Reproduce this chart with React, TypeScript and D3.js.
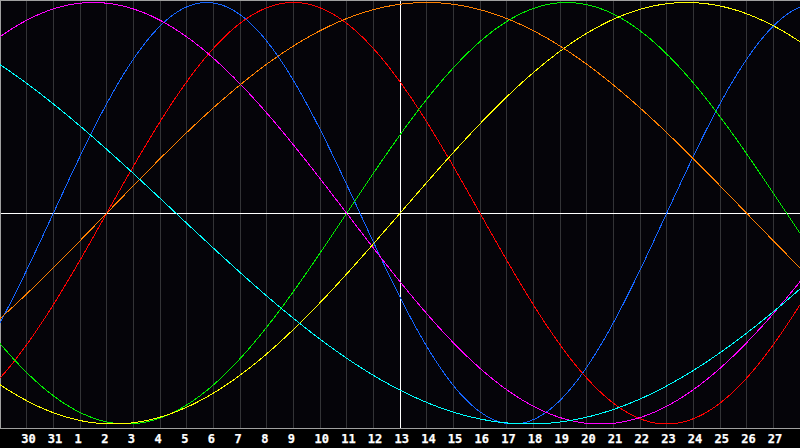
import React from "react";
import * as d3 from "d3";

const WIDTH = 800;
const HEIGHT = 448;
const PLOT_BOTTOM = 428;

// day labels under the grid lines (29 of them, from the 30th of last month)
const dayLabels = [
  "30", "31", "1", "2", "3", "4", "5", "6", "7", "8", "9", "10", "11", "12", "13",
  "14", "15", "16", "17", "18", "19", "20", "21", "22", "23", "24", "25", "26", "27",
];
const todayIndex = 15; // "13"

// biorhythm cycles: length in days and the day (from left edge) where it rises through zero
const cycleNames = ["physical", "emotional", "intellectual", "intuitive", "aesthetic", "awareness", "spiritual"];
const cyclePeriods = [23, 28, 33, 38, 43, 48, 53];
const cycleZeroDays = [2, 4, 13, -6, 15, 4, -19.9];
const cycleColors = ["#1565ff", "#ff0000", "#00ee00", "#ff00ff", "#ffff00", "#ff8000", "#00ffff"];

function App() {
  const xScale = d3.scaleLinear().domain([0, 30]).range([0, WIDTH]);
  const yScale = d3.scaleLinear().domain([-1, 1]).range([424, 2.5]);

  const samples = d3.range(0, 30.0001, 1 / 26.6667);

  const crisp = (v: number) => Math.floor(v) + 0.5;
  const zeroY = crisp(yScale(0));

  return (
    <svg
      width={WIDTH}
      height={HEIGHT}
      style={{ position: "fixed", left: 0, top: 0, background: "#000" }}
    >
      <rect x={0} y={0} width={WIDTH} height={PLOT_BOTTOM} fill="#050409" />

      {/* day grid */}
      {dayLabels.map((lab, i) => {
        const x = crisp(xScale(i + 1));
        return (
          <g key={lab + i}>
            <line
              x1={x}
              x2={x}
              y1={0}
              y2={PLOT_BOTTOM}
              stroke={i + 1 === todayIndex ? "#ffffff" : "#333336"}
              strokeWidth={1}
              shapeRendering="crispEdges"
            />
            <text
              x={xScale(i + 1) - 5.5}
              y={443}
              fill="#ffffff"
              stroke="#ffffff"
              strokeWidth={0.25}
              fontFamily="'DejaVu Sans Mono', monospace"
              fontWeight="bold"
              fontSize={12}
            >
              {lab}
            </text>
          </g>
        );
      })}

      {/* zero line */}
      <line x1={0} x2={WIDTH} y1={zeroY} y2={zeroY} stroke="#ffffff" shapeRendering="crispEdges" />

      {/* frame */}
      <line x1={0.5} x2={0.5} y1={0} y2={PLOT_BOTTOM} stroke="#a0a0a0" shapeRendering="crispEdges" />
      <line x1={0} x2={WIDTH} y1={0.5} y2={0.5} stroke="#a0a0a0" shapeRendering="crispEdges" />
      <line x1={0} x2={WIDTH} y1={PLOT_BOTTOM + 0.5} y2={PLOT_BOTTOM + 0.5} stroke="#a0a0a0" shapeRendering="crispEdges" />

      {/* cycles */}
      {cycleNames.map((name, c) => {
        const pts: [number, number][] = samples.map((d) => [
          d,
          Math.sin((2 * Math.PI * (d - cycleZeroDays[c])) / cyclePeriods[c]),
        ]);
        const path = d3
          .line<[number, number]>()
          .x((p) => xScale(p[0]))
          .y((p) => yScale(p[1]))(pts);
        return (
          <path
            key={name}
            d={path || ""}
            fill="none"
            stroke={cycleColors[c]}
            strokeWidth={1}
            shapeRendering="crispEdges"
          />
        );
      })}
    </svg>
  );
}

export default App;
